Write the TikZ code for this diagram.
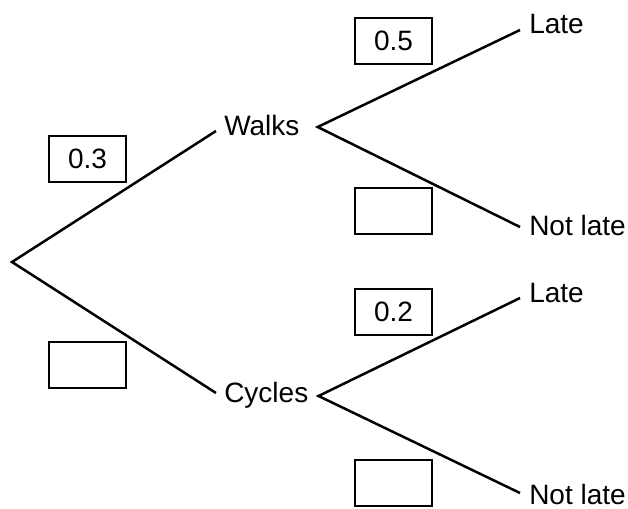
\documentclass[tikz,border=0pt]{standalone}
\usepackage{fontspec}
\setmainfont{Liberation Sans}
\begin{document}
\begin{tikzpicture}[x=0.5pt, y=-0.5pt, line width=1.25pt,
    lbl/.style={anchor=base west, inner sep=0pt, font=\fontsize{14}{17}\selectfont},
    pbox/.style={draw, line width=1pt, minimum width=38.5pt, minimum height=23pt, inner sep=0pt, font=\fontsize{14}{17}\selectfont}]
    \useasboundingbox (0,0) rectangle (628,509);
    % Start
    \coordinate (root) at (12,262);
    % First choice
    \node[lbl] (walks) at (223,135) {Walks};
    \node[lbl] (cycles) at (223,402) {Cycles};
    % Outcomes
    \node[lbl] (wlate) at (528,33) {Late};
    \node[lbl] (wnot) at (528,235) {Not late};
    \node[lbl] (clate) at (528,302) {Late};
    \node[lbl] (cnot) at (528,504) {Not late};
    % Branches
    \draw ([xshift=-3.5pt, yshift=2pt]walks.base west) -- (root) -- ([xshift=-3.5pt, yshift=4.5pt]cycles.base west);
    \draw ([xshift=-4pt, yshift=1.5pt]wlate.base west) -- ([xshift=8.5pt, yshift=4pt]walks.base east) -- ([xshift=-4pt, yshift=4pt]wnot.base west);
    \draw ([xshift=-4pt, yshift=2pt]clate.base west) -- ([xshift=4.5pt, yshift=3pt]cycles.base east) -- ([xshift=-4pt, yshift=5.5pt]cnot.base west);
    % Probabilities
    \node[pbox] (pwalks) at (87.5,159) {0.3};
    \node[pbox] (pcycles) at (87.5,364.5) {};
    \node[pbox] (pwlate) at (393.5,40.5) {0.5};
    \node[pbox] (pwnot) at (393.5,210.5) {};
    \node[pbox] (pclate) at (393.5,311.5) {0.2};
    \node[pbox] (pcnot) at (393.5,483) {};
\end{tikzpicture}
\end{document}
